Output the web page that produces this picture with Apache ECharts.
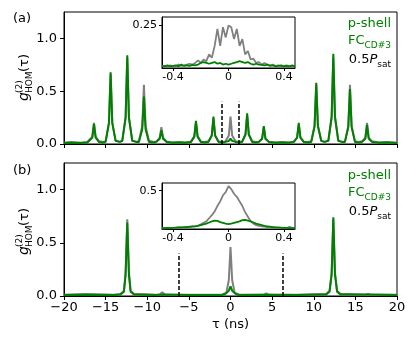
<!DOCTYPE html>
<html>
<head>
<meta charset="utf-8">
<script src="https://cdn.jsdelivr.net/npm/echarts@6/dist/echarts.min.js"></script>
<style>
html, body { margin: 0; padding: 0; background: #fff; }
#chart { width: 415px; height: 346px; }
</style>
</head>
<body>
<div id="chart"></div>
<script>
// (a) main trace, [tau (ns), g2]
const greenA = [
  [-20, 0.01], [-19, 0.012], [-18, 0.01], [-17.2, 0.015],
  [-17.0, 0.02], [-16.6, 0.06], [-16.4, 0.19], [-16.2, 0.06], [-15.8, 0.02],
  [-15.3, 0.015],
  [-15.0, 0.02], [-14.6, 0.2], [-14.4, 0.68], [-14.2, 0.2], [-13.8, 0.03],
  [-13.3, 0.02],
  [-13.0, 0.03], [-12.6, 0.25], [-12.4, 0.84], [-12.2, 0.25], [-11.8, 0.03],
  [-11.3, 0.02],
  [-11.0, 0.02], [-10.6, 0.14], [-10.4, 0.45], [-10.2, 0.14], [-9.8, 0.02],
  [-9.2, 0.015],
  [-8.9, 0.02], [-8.5, 0.05], [-8.3, 0.13], [-8.1, 0.05], [-7.7, 0.02],
  [-7.0, 0.012], [-6.2, 0.015], [-5.4, 0.012],
  [-4.75, 0.02], [-4.35, 0.07], [-4.15, 0.22], [-3.95, 0.07], [-3.55, 0.02],
  [-3.1, 0.015],
  [-2.65, 0.02], [-2.25, 0.08], [-2.05, 0.26], [-1.85, 0.08], [-1.45, 0.02],
  [-0.9, 0.015],
  [-0.6, 0.02], [-0.2, 0.03], [0, 0.05], [0.2, 0.03], [0.6, 0.02],
  [1.0, 0.015],
  [1.4, 0.02], [1.8, 0.09], [2.0, 0.29], [2.2, 0.09], [2.6, 0.02],
  [3.0, 0.015],
  [3.4, 0.02], [3.8, 0.05], [4.0, 0.17], [4.2, 0.05], [4.6, 0.02],
  [5.4, 0.012], [6.2, 0.015], [7.0, 0.012],
  [7.6, 0.02], [8.0, 0.06], [8.2, 0.2], [8.4, 0.06], [8.8, 0.02],
  [9.3, 0.015],
  [9.7, 0.02], [10.1, 0.17], [10.3, 0.58], [10.5, 0.17], [10.9, 0.03],
  [11.3, 0.02],
  [11.75, 0.03], [12.15, 0.26], [12.35, 0.855], [12.55, 0.26], [12.95, 0.03],
  [13.4, 0.02],
  [13.75, 0.02], [14.15, 0.16], [14.35, 0.52], [14.55, 0.16], [14.95, 0.02],
  [15.4, 0.015],
  [15.8, 0.02], [16.2, 0.05], [16.4, 0.18], [16.6, 0.05], [17.0, 0.02],
  [17.8, 0.012], [18.8, 0.015], [20, 0.01]
]
const greyA = [
  [-20, 0.012], [-19.2, 0.018], [-18, 0.012], [-17.2, 0.02],
  [-17.0, 0.025], [-16.6, 0.07], [-16.4, 0.2], [-16.2, 0.07], [-15.8, 0.025],
  [-15.3, 0.02],
  [-15.0, 0.025], [-14.6, 0.2], [-14.4, 0.66], [-14.2, 0.2], [-13.8, 0.03],
  [-13.3, 0.02],
  [-13.0, 0.03], [-12.6, 0.25], [-12.4, 0.82], [-12.2, 0.25], [-11.8, 0.03],
  [-11.3, 0.02],
  [-11.0, 0.03], [-10.6, 0.17], [-10.4, 0.56], [-10.2, 0.17], [-9.8, 0.03],
  [-9.2, 0.02],
  [-8.9, 0.025], [-8.5, 0.06], [-8.3, 0.16], [-8.1, 0.06], [-7.7, 0.025],
  [-7.0, 0.015], [-6.2, 0.02], [-5.4, 0.015],
  [-4.75, 0.02], [-4.35, 0.07], [-4.15, 0.2], [-3.95, 0.07], [-3.55, 0.02],
  [-3.1, 0.02],
  [-2.65, 0.025], [-2.25, 0.08], [-2.05, 0.24], [-1.85, 0.08], [-1.45, 0.025],
  [-0.9, 0.02],
  [-0.6, 0.025], [-0.2, 0.08], [0, 0.26], [0.2, 0.08], [0.6, 0.025],
  [1.0, 0.02],
  [1.4, 0.025], [1.8, 0.09], [2.0, 0.27], [2.2, 0.09], [2.6, 0.025],
  [3.0, 0.02],
  [3.4, 0.02], [3.8, 0.05], [4.0, 0.16], [4.2, 0.05], [4.6, 0.02],
  [5.4, 0.015], [6.2, 0.02], [7.0, 0.015],
  [7.6, 0.02], [8.0, 0.06], [8.2, 0.18], [8.4, 0.06], [8.8, 0.02],
  [9.3, 0.02],
  [9.7, 0.025], [10.1, 0.17], [10.3, 0.56], [10.5, 0.17], [10.9, 0.03],
  [11.3, 0.02],
  [11.75, 0.03], [12.15, 0.25], [12.35, 0.82], [12.55, 0.25], [12.95, 0.03],
  [13.4, 0.02],
  [13.75, 0.025], [14.15, 0.17], [14.35, 0.56], [14.55, 0.17], [14.95, 0.025],
  [15.4, 0.02],
  [15.8, 0.025], [16.2, 0.06], [16.4, 0.2], [16.6, 0.06], [17.0, 0.025],
  [17.8, 0.015], [18.8, 0.02], [20, 0.012]
]

// (b) main trace
const greenB = [
  [-20, 0.01], [-17, 0.012], [-14, 0.01], [-13.2, 0.015], [-12.8, 0.04],
  [-12.6, 0.2], [-12.4, 0.69], [-12.2, 0.2], [-12.0, 0.04], [-11.6, 0.015],
  [-9, 0.01], [-8.2, 0.015], [-5, 0.01], [-1, 0.01],
  [-0.6, 0.02], [-0.2, 0.05], [0, 0.09], [0.2, 0.05], [0.6, 0.02],
  [1, 0.01], [4.2, 0.012], [8, 0.01], [11.5, 0.015], [11.9, 0.04],
  [12.15, 0.2], [12.35, 0.74], [12.55, 0.2], [12.8, 0.04], [13.2, 0.015],
  [16.5, 0.015], [20, 0.01]
]
const greyB = [
  [-20, 0.012], [-17.5, 0.018], [-14, 0.012], [-13.2, 0.02], [-12.8, 0.05],
  [-12.6, 0.22], [-12.4, 0.72], [-12.2, 0.22], [-12.0, 0.05], [-11.6, 0.02],
  [-9, 0.012], [-8.5, 0.015], [-8.2, 0.035], [-7.9, 0.015], [-5, 0.012], [-1, 0.015],
  [-0.5, 0.03], [-0.2, 0.15], [0, 0.46], [0.2, 0.15], [0.5, 0.03],
  [1, 0.015], [4.0, 0.012], [4.3, 0.025], [4.6, 0.012], [8, 0.012], [11.5, 0.02], [11.9, 0.05],
  [12.15, 0.22], [12.35, 0.72], [12.55, 0.22], [12.8, 0.05], [13.2, 0.02],
  [16.2, 0.012], [16.5, 0.02], [16.8, 0.012], [20, 0.012]
]

// dashed markers
const dashA = [-1.0, 1.0]
const dashB = [-6.25, 6.25]
const dashTop = 0.4

// insets, tau in ns
const insetTau = [
  -0.48, -0.46, -0.44, -0.42, -0.40, -0.38, -0.36, -0.34, -0.32, -0.30,
  -0.28, -0.26, -0.24, -0.22, -0.20, -0.18, -0.16, -0.14, -0.12, -0.10,
  -0.08, -0.06, -0.04, -0.02, 0.00, 0.02, 0.04, 0.06, 0.08, 0.10,
  0.12, 0.14, 0.16, 0.18, 0.20, 0.22, 0.24, 0.26, 0.28, 0.30,
  0.32, 0.34, 0.36, 0.38, 0.40, 0.42, 0.44, 0.46, 0.48
]
const insetGreyA = [
  0.01, 0.012, 0.01, 0.015, 0.01, 0.012, 0.02, 0.012, 0.015, 0.02,
  0.025, 0.02, 0.03, 0.045, 0.03, 0.05, 0.04, 0.08, 0.06, 0.13,
  0.23, 0.13, 0.24, 0.18, 0.25, 0.24, 0.17, 0.23, 0.13, 0.17,
  0.08, 0.1, 0.05, 0.055, 0.03, 0.035, 0.02, 0.03, 0.02, 0.015,
  0.02, 0.012, 0.015, 0.01, 0.012, 0.015, 0.01, 0.012, 0.01
]
const insetGreenA = [
  0.012, 0.01, 0.015, 0.01, 0.012, 0.015, 0.01, 0.02, 0.012, 0.015,
  0.012, 0.018, 0.015, 0.02, 0.03, 0.035, 0.03, 0.025, 0.03, 0.035,
  0.025, 0.03, 0.02, 0.025, 0.02, 0.025, 0.03, 0.035, 0.04, 0.035,
  0.03, 0.035, 0.025, 0.02, 0.025, 0.02, 0.018, 0.015, 0.02, 0.012,
  0.015, 0.01, 0.012, 0.015, 0.01, 0.012, 0.01, 0.015, 0.01
]
const insetGreyB = [
  0.01, 0.012, 0.01, 0.015, 0.012, 0.015, 0.02, 0.018, 0.02, 0.025,
  0.025, 0.03, 0.035, 0.045, 0.06, 0.08, 0.1, 0.14, 0.18, 0.23,
  0.3, 0.36, 0.44, 0.48, 0.56, 0.52, 0.46, 0.42, 0.36, 0.3,
  0.22, 0.16, 0.1, 0.07, 0.05, 0.04, 0.035, 0.03, 0.025, 0.02,
  0.02, 0.018, 0.015, 0.012, 0.015, 0.01, 0.03, 0.012, 0.01
]
const insetGreenB = [
  0.01, 0.012, 0.015, 0.012, 0.015, 0.018, 0.02, 0.02, 0.025, 0.025,
  0.03, 0.035, 0.035, 0.04, 0.05, 0.06, 0.07, 0.085, 0.1, 0.11,
  0.105, 0.09, 0.08, 0.07, 0.065, 0.07, 0.08, 0.09, 0.1, 0.115,
  0.12, 0.11, 0.1, 0.085, 0.07, 0.06, 0.05, 0.04, 0.035, 0.03,
  0.025, 0.02, 0.02, 0.018, 0.015, 0.015, 0.012, 0.012, 0.01
]

const mainYTicks = [0, 0.5, 1.0]
const insetXTicks = [-0.4, 0, 0.4]
const insetYTickA = [0.25]
const insetYTickB = [0.5]

const FONT = 'DejaVu Sans'
const GREEN = '#008000'
const GREY = '#808080'

const chart = echarts.init(document.getElementById('chart'))

function xMain(gridIndex, labels) {
  return {
    gridIndex, type: 'value', min: -20, max: 20, interval: 5,
    axisLine: { onZero: false, lineStyle: { color: '#000', width: 1 } },
    axisTick: { length: 4, lineStyle: { color: '#000' } },
    axisLabel: {
      show: labels, color: '#000', fontFamily: FONT, fontSize: 13, margin: 5,
      formatter: v => v < 0 ? '\u2212' + (-v) : String(v)
    },
    splitLine: { show: false },
    name: labels ? 'τ (ns)' : '', nameLocation: 'middle', nameGap: 22,
    nameTextStyle: { color: '#000', fontFamily: FONT, fontSize: 13 }
  }
}
function yMain(gridIndex) {
  return {
    gridIndex, type: 'value', min: 0, max: 1.25,
    axisLine: { show: true, onZero: false, lineStyle: { color: '#000', width: 1 } },
    axisTick: { show: true, length: 4, customValues: mainYTicks, lineStyle: { color: '#000' } },
    axisLabel: {
      color: '#000', fontFamily: FONT, fontSize: 13, margin: 7,
      customValues: mainYTicks, formatter: v => v.toFixed(1)
    },
    splitLine: { show: false }
  }
}
function xInset(gridIndex) {
  return {
    gridIndex, type: 'value', min: -0.48, max: 0.48,
    axisLine: { onZero: false, lineStyle: { color: '#000', width: 1 } },
    axisTick: { length: 3, customValues: insetXTicks, lineStyle: { color: '#000' } },
    axisLabel: {
      color: '#000', fontFamily: FONT, fontSize: 11, margin: 4,
      customValues: insetXTicks, formatter: v => v === 0 ? '0' : v.toFixed(1)
    },
    splitLine: { show: false }
  }
}
function yInset(gridIndex, max, ticks) {
  return {
    gridIndex, type: 'value', min: 0, max,
    axisLine: { show: true, onZero: false, lineStyle: { color: '#000', width: 1 } },
    axisTick: { show: true, length: 3, customValues: ticks, lineStyle: { color: '#000' } },
    axisLabel: {
      color: '#000', fontFamily: FONT, fontSize: 11, margin: 5,
      customValues: ticks, formatter: v => String(v)
    },
    splitLine: { show: false }
  }
}
function trace(axis, data, color, width, extra) {
  return Object.assign({
    type: 'line', xAxisIndex: axis, yAxisIndex: axis, data,
    showSymbol: false, symbol: 'none', silent: true,
    lineStyle: { color, width }
  }, extra || {})
}
function dashes(taus) {
  return {
    symbol: 'none', silent: true, label: { show: false },
    lineStyle: { color: '#000', width: 1.5, type: [4, 2] },
    data: taus.map(t => [{ coord: [t, 0] }, { coord: [t, dashTop] }])
  }
}
function zip(xs, ys) {
  return xs.map((x, i) => [x, ys[i]])
}
function ylabel(x, y) {
  return {
    type: 'group', x, y, rotation: Math.PI / 2,
    children: [
      { type: 'text', x: 0, y: 0, style: { text: 'g', font: 'italic 14px "DejaVu Sans"', fill: '#000', verticalAlign: 'bottom' } },
      { type: 'text', x: 8, y: -7, style: { text: '(2)', font: '9px "DejaVu Sans"', fill: '#000', verticalAlign: 'bottom' } },
      { type: 'text', x: 8, y: 3, style: { text: 'HOM', font: '9px "DejaVu Sans"', fill: '#000', verticalAlign: 'bottom' } },
      { type: 'text', x: 29, y: 0, style: { text: '(τ)', font: '13px "DejaVu Sans"', fill: '#000', verticalAlign: 'bottom' } }
    ]
  }
}
const rich = {
  g: { fontFamily: FONT, fontSize: 13, fill: GREEN, lineHeight: 15, verticalAlign: 'top' },
  gs: { fontFamily: FONT, fontSize: 9, fill: GREEN, lineHeight: 9, verticalAlign: 'top', padding: [7, 0, 0, 0] },
  k: { fontFamily: FONT, fontSize: 13, fill: '#000', lineHeight: 15, verticalAlign: 'top' },
  ki: { fontFamily: FONT, fontSize: 13, fontStyle: 'italic', fill: '#000', lineHeight: 15, verticalAlign: 'top' },
  ks: { fontFamily: FONT, fontSize: 9, fill: '#000', lineHeight: 9, verticalAlign: 'top', padding: [7, 0, 0, 0] }
}
function legendText(y) {
  return [
    { type: 'text', x: 391, y: y, style: { text: '{g|p-shell}', rich, align: 'right', verticalAlign: 'top' } },
    { type: 'text', x: 391, y: y + 17, style: { text: '{g|FC}{gs|CD#3}', rich, align: 'right', verticalAlign: 'top' } },
    { type: 'text', x: 391, y: y + 36, style: { text: '{k|0.5}{ki|P}{ks|sat}', rich, align: 'right', verticalAlign: 'top' } }
  ]
}

const options = {
  animation: false,
  backgroundColor: '#fff',
  grid: [
    { left: 64, top: 12, width: 333, height: 132, show: true, borderColor: '#000', borderWidth: 1 },
    { left: 162, top: 17, width: 133, height: 51, show: true, borderColor: '#000', borderWidth: 1, backgroundColor: '#fff' },
    { left: 64, top: 163, width: 333, height: 133, show: true, borderColor: '#000', borderWidth: 1 },
    { left: 162, top: 183, width: 133, height: 46, show: true, borderColor: '#000', borderWidth: 1, backgroundColor: '#fff' }
  ],
  xAxis: [xMain(0, false), xInset(1), xMain(2, true), xInset(3)],
  yAxis: [yMain(0), yInset(1, 0.3, insetYTickA), yMain(2), yInset(3, 0.6, insetYTickB)],
  series: [
    trace(0, greyA, GREY, 2),
    trace(0, greenA, GREEN, 2, { markLine: dashes(dashA) }),
    trace(1, zip(insetTau, insetGreyA), GREY, 1.8),
    trace(1, zip(insetTau, insetGreenA), GREEN, 1.8),
    trace(2, greyB, GREY, 2),
    trace(2, greenB, GREEN, 2, { markLine: dashes(dashB) }),
    trace(3, zip(insetTau, insetGreyB), GREY, 1.8),
    trace(3, zip(insetTau, insetGreenB), GREEN, 1.8)
  ],
  graphic: [
    { type: 'text', x: 13, y: 12, style: { text: '(a)', font: '13px "DejaVu Sans"', fill: '#000' } },
    { type: 'text', x: 13, y: 164, style: { text: '(b)', font: '13px "DejaVu Sans"', fill: '#000' } },
    ylabel(31, 101),
    ylabel(31, 255),
    ...legendText(17),
    ...legendText(169)
  ]
}

chart.setOption(options)
</script>
</body>
</html>
